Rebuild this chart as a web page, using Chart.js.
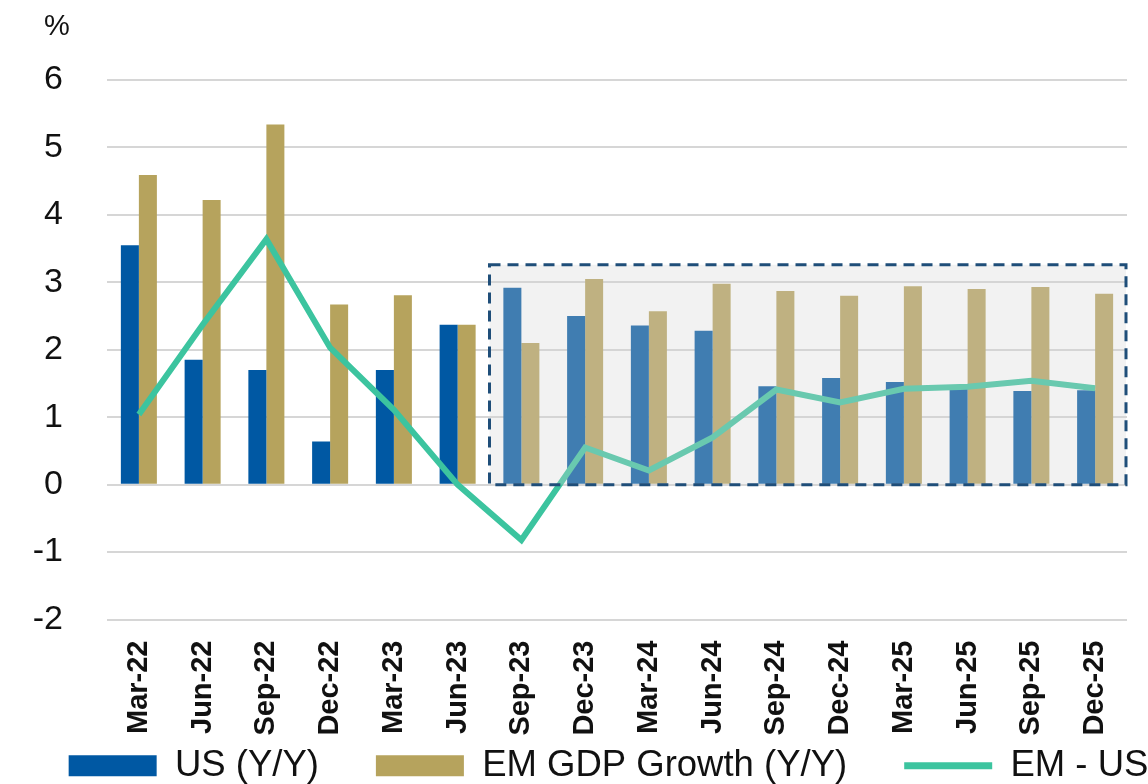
<!DOCTYPE html>
<html>
<head>
<meta charset="utf-8">
<script src="https://cdn.jsdelivr.net/npm/chart.js@4"></script>
<style>
html,body{margin:0;padding:0;background:#fff;overflow:hidden;}
#wrap{width:1148px;height:784px;position:relative;overflow:hidden;}
canvas{position:absolute;left:0;top:0;}
</style>
</head>
<body>
<div id="wrap"><canvas id="c" width="1217" height="794"></canvas></div>
<script>
const categories = ["Mar-22","Jun-22","Sep-22","Dec-22","Mar-23","Jun-23","Sep-23","Dec-23","Mar-24","Jun-24","Sep-24","Dec-24","Mar-25","Jun-25","Sep-25","Dec-25"];
const usGrowth = [3.55,1.85,1.70,0.64,1.70,2.37,2.92,2.50,2.36,2.28,1.46,1.58,1.52,1.45,1.39,1.40];
const emGrowth = [4.59,4.22,5.34,2.67,2.81,2.37,2.10,3.05,2.57,2.98,2.87,2.80,2.94,2.90,2.93,2.83];
const emMinusUs = [1.04,2.37,3.64,2.03,1.11,0.00,-0.82,0.55,0.21,0.70,1.41,1.22,1.42,1.45,1.54,1.43];
const yTicks = [-2,-1,0,1,2,3,4,5,6];
const forecastStart = "Sep-23";
const forecastTop = 3.26;

const boxPlugin = {
  id: 'forecastBox',
  afterDatasetsDraw(chart) {
    const {ctx, chartArea, scales:{x, y}} = chart;
    const i0 = categories.indexOf(forecastStart);
    const left = x.getPixelForValue(i0 - 0.5);
    const right = chartArea.right - 1;
    const top = y.getPixelForValue(forecastTop);
    const bottom = y.getPixelForValue(0);
    ctx.save();
    ctx.fillStyle = 'rgba(213,213,213,0.30)';
    ctx.fillRect(left, top, right - left, bottom - top);
    ctx.strokeStyle = '#1f4e79';
    ctx.lineWidth = 3;
    ctx.setLineDash([11, 7]);
    ctx.strokeRect(left, top, right - left, bottom - top);
    ctx.restore();
  },
  afterDraw(chart) {
    const {ctx} = chart;
    ctx.save();
    ctx.fillStyle = '#111';
    ctx.font = '29px "Liberation Sans", Arial, sans-serif';
    ctx.textAlign = 'center';
    ctx.textBaseline = 'middle';
    ctx.fillText('%', 57, 27);
    ctx.restore();
  }
};

new Chart(document.getElementById('c'), {
  type: 'bar',
  data: {
    labels: categories,
    datasets: [
      { label: 'US (Y/Y)', data: usGrowth, backgroundColor: '#0058a3', order: 1,
        categoryPercentage: 0.565, barPercentage: 1.0 },
      { label: 'EM GDP Growth (Y/Y)', data: emGrowth, backgroundColor: '#b6a35d', order: 1,
        categoryPercentage: 0.565, barPercentage: 1.0 },
      { type: 'line', label: 'EM - US', data: emMinusUs, borderColor: '#3cc49f', backgroundColor: '#3cc49f',
        borderWidth: 6, pointRadius: 0, tension: 0, order: 0 }
    ]
  },
  options: {
    responsive: false,
    animation: false,
    devicePixelRatio: 1,
    layout: { padding: { top: 80, left: 0, right: 0, bottom: 0 } },
    plugins: {
      tooltip: { enabled: false },
      legend: {
        position: 'bottom',
        labels: {
          font: { family: '"Liberation Sans", Arial, sans-serif', size: 36.5 },
          color: '#111',
          usePointStyle: true,
          pointStyleWidth: 88,
          boxHeight: 21,
          padding: 57,
          generateLabels(chart) {
            return chart.data.datasets.map((ds, i) => ({
              text: ds.label,
              fillStyle: ds.type === 'line' ? ds.borderColor : ds.backgroundColor,
              strokeStyle: ds.type === 'line' ? ds.borderColor : ds.backgroundColor,
              lineWidth: ds.type === 'line' ? 7 : 0,
              pointStyle: ds.type === 'line' ? 'line' : 'rect',
              fontColor: '#111',
              hidden: false,
              datasetIndex: i
            }));
          }
        }
      }
    },
    scales: {
      x: {
        grid: { display: false, drawTicks: false },
        border: { display: false },
        afterFit(s) {
          s.height = 71;
          s._computeLabelArea = function () { return undefined; };
        },
        ticks: {
          minRotation: 90, maxRotation: 90, autoSkip: false, padding: 21,
          color: '#111',
          font: { family: '"Liberation Sans", Arial, sans-serif', size: 29, weight: 'bold' }
        }
      },
      y: {
        min: -2, max: 6,
        afterBuildTicks(scale) { scale.ticks = yTicks.map(v => ({ value: v })); },
        afterFit(s) { s.width = 107; },
        grid: { color: '#d6d6d6', lineWidth: 2, drawTicks: false },
        border: { display: false },
        ticks: {
          padding: 44, color: '#111',
          font: { family: '"Liberation Sans", Arial, sans-serif', size: 34 }
        }
      },
      yRight: {
        position: 'right',
        display: true,
        grid: { display: false, drawTicks: false },
        border: { display: false },
        ticks: { display: false },
        afterFit(s) { s.width = 90; }
      }
    }
  },
  plugins: [boxPlugin]
});
</script>
</body>
</html>
